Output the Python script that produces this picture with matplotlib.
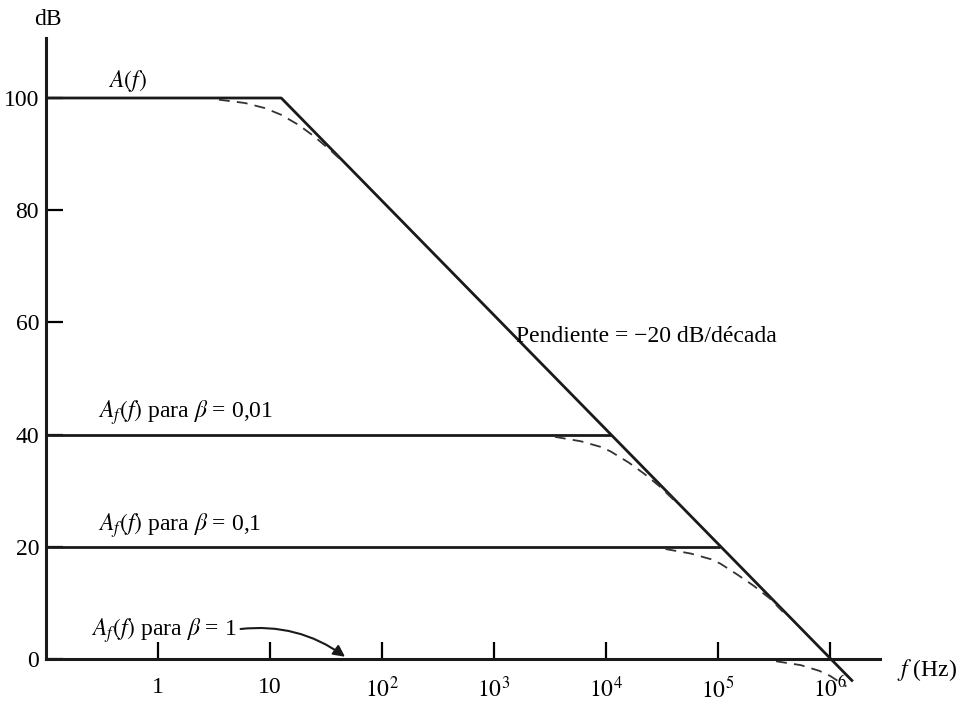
import matplotlib
matplotlib.use('Agg')
import matplotlib.pyplot as plt
import numpy as np

plt.rcParams['font.family'] = ['Liberation Serif', 'DejaVu Serif']
plt.rcParams['mathtext.fontset'] = 'stix'

# open-loop gain A(f): asymptotes (f in Hz, gain in dB)
A_f = [0.1, 12.6, 1.6e6]
A_db = [100, 100, -4]

# closed-loop asymptotes (flat part up to the corner on the A(f) line)
beta_labels = ['0,01', '0,1', '1']
Af_f = [[0.1, 1.1e4], [0.1, 1.05e5], [0.1, 1.0e6]]
Af_db = [[40, 40], [20, 20], [0, 0]]

dash_A_f = [3.5, 6, 9, 12.6, 18, 25, 35, 45]
dash_A_db = [99.7, 99.1, 98.2, 97.0, 95.2, 93.1, 90.6, 88.6]
dash_40_f = [3.5e3, 6e3, 9e3, 1.1e4, 1.6e4, 2.2e4, 3e4, 4e4]
dash_40_db = [39.6, 38.8, 37.8, 37.0, 35.0, 33.0, 30.8, 28.4]
dash_20_f = [3.4e4, 5.7e4, 8.6e4, 1.05e5, 1.5e5, 2.1e5, 2.9e5, 3.8e5]
dash_20_db = [19.6, 18.8, 17.8, 17.0, 15.0, 13.0, 10.8, 8.4]
dash_0_f = [3.3e5, 5.5e5, 8e5, 1e6, 1.4e6]
dash_0_db = [-0.4, -1.1, -2.1, -3.0, -4.9]

yticks = [0, 20, 40, 60, 80, 100]
xticks = [1, 10, 1e2, 1e3, 1e4, 1e5, 1e6]
xticklabels = ['1', '10', '$10^2$', '$10^3$', '$10^4$', '$10^5$', '$10^6$']

fs = 17

fig = plt.figure(figsize=(9.61, 7.09), dpi=100)
ax = fig.add_axes([46/961, 50/709, 834/961, 621/709])
ax.set_xscale('log')
ax.set_xlim(0.1, 10**(-1 + 834/112))
ax.set_ylim(0, 621/5.61)

for s in ['top', 'right']:
    ax.spines[s].set_visible(False)
for s in ['left', 'bottom']:
    ax.spines[s].set_linewidth(2.2)
    ax.spines[s].set_color('#1a1a1a')

kw = dict(color='#1a1a1a', lw=2.0, clip_on=False, solid_capstyle='butt')
ax.plot(A_f, A_db, **kw)
for xs, ys in zip(Af_f[:2], Af_db[:2]):
    ax.plot(xs, ys, **kw)

dkw = dict(color='#333333', lw=1.3, ls=(0, (6, 4)), clip_on=False)
ax.plot(dash_A_f, dash_A_db, **dkw)
ax.plot(dash_40_f, dash_40_db, **dkw)
ax.plot(dash_20_f, dash_20_db, **dkw)
ax.plot(dash_0_f, dash_0_db, **dkw)

ax.set_yticks(yticks)
ax.set_yticklabels([str(v) for v in yticks], fontsize=fs)
ax.set_xticks(xticks)
ax.set_xticklabels(xticklabels, fontsize=fs)
ax.minorticks_off()
ax.tick_params(axis='y', direction='in', length=12, width=1.6, pad=5)
ax.tick_params(axis='x', direction='in', length=12, width=1.6, pad=13)

ax.text(0.105, 114, 'dB', fontsize=fs, ha='center', va='center')
ax.text(10**6.6, -2, '$f$ (Hz)', fontsize=fs, ha='left', va='center')
ax.text(10**-0.45, 103, '$A(f)$', fontsize=fs, ha='left', va='center')
ax.text(10**3.2, 57.4, 'Pendiente = −20 dB/década', fontsize=fs, ha='left', va='center')
ax.text(10**-0.54, 44, r'$A_f(f)$ para $\beta$ = ' + beta_labels[0], fontsize=fs,
        ha='left', va='center')
ax.text(10**-0.54, 23.8, r'$A_f(f)$ para $\beta$ = ' + beta_labels[1], fontsize=fs,
        ha='left', va='center')
ax.annotate(r'$A_f(f)$ para $\beta$ = ' + beta_labels[2], xy=(10**1.67, 0.4),
            xytext=(10**-0.6, 5), fontsize=fs, ha='left', va='center',
            arrowprops=dict(arrowstyle='-|>', color='#1a1a1a', lw=1.5, relpos=(1, 0.55),
                            connectionstyle='arc3,rad=-0.2', shrinkA=1, shrinkB=0))

fig.savefig('out.png', dpi=100, facecolor='white')
